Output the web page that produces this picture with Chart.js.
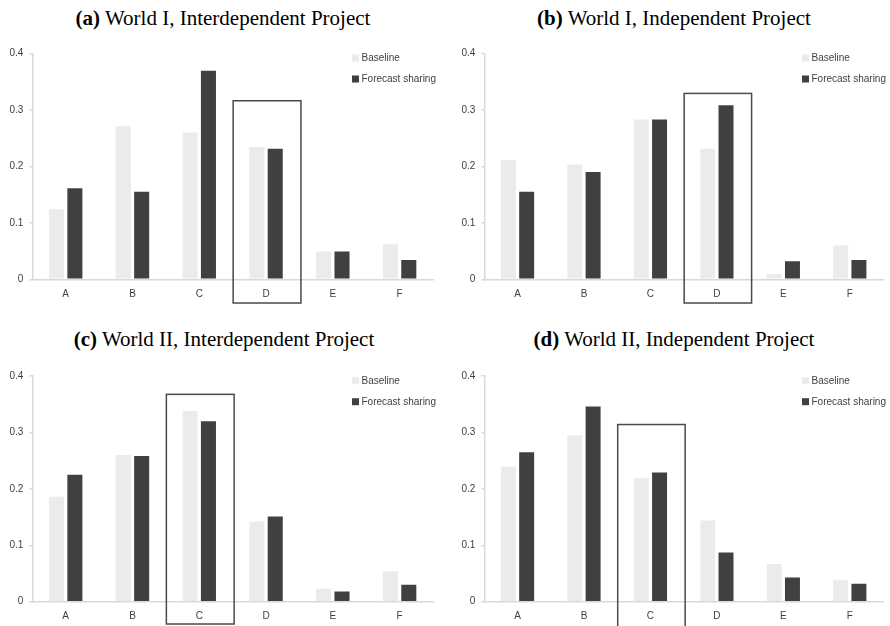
<!DOCTYPE html>
<html>
<head>
<meta charset="utf-8">
<script src="https://cdn.jsdelivr.net/npm/chart.js@4.4.1/dist/chart.umd.min.js"></script>
<style>
  html, body { margin: 0; padding: 0; background: #fff; }
  #wrap { position: relative; width: 890px; height: 626px; overflow: hidden; background: #fff; }
  canvas { position: absolute; }
  .title { position: absolute; width: 446px; text-align: center; font-family: "Liberation Serif", "Times New Roman", serif; font-size: 21px; line-height: 21px; color: #000; white-space: nowrap; }
  .title b { font-weight: bold; }
</style>
</head>
<body>
<div id="wrap">
  <div class="title" id="t0" style="left:0px; top:8px;"></div>
  <div class="title" id="t1" style="left:451px; top:8px;"></div>
  <div class="title" id="t2" style="left:1px; top:329px;"></div>
  <div class="title" id="t3" style="left:451px; top:329px;"></div>
  <canvas id="c0" width="445" height="313" style="left:0px; top:0px;"></canvas>
  <canvas id="c1" width="445" height="313" style="left:445px; top:0px;"></canvas>
  <canvas id="c2" width="445" height="313" style="left:0px; top:313px;"></canvas>
  <canvas id="c3" width="445" height="313" style="left:445px; top:313px;"></canvas>
</div>
<script>
// ---------------- data ----------------
const categories = ['A', 'B', 'C', 'D', 'E', 'F'];
const yTickValues = [0, 0.1, 0.2, 0.3, 0.4];
const seriesNames = ['Baseline', 'Forecast sharing'];
const panelLetters = ['(a)', '(b)', '(c)', '(d)'];
const panelTitles = ['World I, Interdependent Project', 'World I, Independent Project',
                     'World II, Interdependent Project', 'World II, Independent Project'];

const baselineW1Inter = [0.124, 0.271, 0.260, 0.234, 0.049, 0.062];
const forecastW1Inter = [0.161, 0.155, 0.369, 0.231, 0.049, 0.034];
const baselineW1Indep = [0.211, 0.203, 0.283, 0.231, 0.009, 0.060];
const forecastW1Indep = [0.155, 0.190, 0.283, 0.308, 0.032, 0.034];
const baselineW2Inter = [0.186, 0.260, 0.338, 0.142, 0.023, 0.054];
const forecastW2Inter = [0.225, 0.258, 0.320, 0.151, 0.018, 0.030];
const baselineW2Indep = [0.239, 0.295, 0.219, 0.144, 0.067, 0.038];
const forecastW2Indep = [0.265, 0.346, 0.229, 0.087, 0.043, 0.032];

const highlightCategory = ['D', 'D', 'C', 'C'];
const highlightTop = [0.316, 0.329, 0.3675, 0.314];

// ---------------- styling / layout ----------------
const baselineColor = '#ebebeb';
const forecastColor = '#404040';
const axisColor = '#d9d9d9';
const textColor = '#404040';

const panelBaseline = [baselineW1Inter, baselineW1Indep, baselineW2Inter, baselineW2Indep];
const panelForecast = [forecastW1Inter, forecastW1Indep, forecastW2Inter, forecastW2Indep];
const panelPadding = [
  { left: 2.3, top: 53.3, right: 12, bottom: 13.7 },
  { left: 9.3, top: 53.3, right: 7, bottom: 13.7 },
  { left: 2.3, top: 63, right: 12, bottom: 4.3 },
  { left: 9.3, top: 63, right: 7, bottom: 4.3 }
];
const boxBelowAxis = [23.7, 23.7, 22.3, 40];

const boxPlugin = {
  id: 'highlightBox',
  afterDraw(chart, args, opts) {
    const x = chart.scales.x, y = chart.scales.y;
    const idx = categories.indexOf(opts.category);
    const half = (x.right - x.left) / categories.length / 2;
    const cx = x.getPixelForValue(idx);
    const top = y.getPixelForValue(opts.top);
    const bottom = y.getPixelForValue(0) + opts.below;
    const ctx = chart.ctx;
    ctx.save();
    ctx.strokeStyle = '#4a4a4a';
    ctx.lineWidth = 1.5;
    ctx.strokeRect(cx - half + 0.5, top, half * 2 + 1, bottom - top);
    ctx.restore();
  }
};

const legendPlugin = {
  id: 'cornerLegend',
  afterDraw(chart) {
    const ctx = chart.ctx;
    const area = chart.chartArea;
    const x0 = area.right - 81;
    ctx.save();
    ctx.font = '10px "Liberation Sans", Arial, sans-serif';
    ctx.textBaseline = 'middle';
    ctx.textAlign = 'left';
    chart.data.datasets.forEach((ds, i) => {
      const cy = area.top + 4.7 + i * 21;
      ctx.fillStyle = ds.backgroundColor;
      ctx.fillRect(x0, cy - 3.5, 7, 7);
      ctx.fillStyle = textColor;
      ctx.fillText(ds.label, x0 + 9.5, cy + 0.5);
    });
    ctx.restore();
  }
};

for (let p = 0; p < 4; p++) {
  document.getElementById('t' + p).innerHTML = '<b>' + panelLetters[p] + '</b> ' + panelTitles[p];
  new Chart(document.getElementById('c' + p), {
    type: 'bar',
    data: {
      labels: categories,
      datasets: [
        { label: seriesNames[0], data: panelBaseline[p], backgroundColor: baselineColor,
          categoryPercentage: 0.55, barPercentage: 0.82 },
        { label: seriesNames[1], data: panelForecast[p], backgroundColor: forecastColor,
          categoryPercentage: 0.55, barPercentage: 0.82 }
      ]
    },
    options: {
      responsive: false,
      animation: false,
      devicePixelRatio: 1,
      layout: { padding: panelPadding[p] },
      plugins: {
        legend: { display: false },
        tooltip: { enabled: false },
        title: { display: false },
        highlightBox: { category: highlightCategory[p], top: highlightTop[p], below: boxBelowAxis[p] }
      },
      scales: {
        x: {
          grid: { display: false, drawTicks: false },
          border: { display: true, color: axisColor, width: 1.5 },
          ticks: { color: textColor, padding: 9, font: { family: '"Liberation Sans", Arial, sans-serif', size: 10 } },
          afterFit(scale) { scale.height = 20; }
        },
        y: {
          min: 0, max: 0.4,
          afterBuildTicks(scale) { scale.ticks = yTickValues.map(v => ({ value: v })); },
          grid: { display: true, drawOnChartArea: false, drawTicks: true, tickLength: 3, color: axisColor, lineWidth: 1.5 },
          border: { display: true, color: axisColor, width: 1.5 },
          ticks: { color: textColor, padding: 6, font: { family: '"Liberation Sans", Arial, sans-serif', size: 10 },
                   callback: (v) => String(v) },
          afterFit(scale) { scale.width = 30; }
        }
      }
    },
    plugins: [boxPlugin, legendPlugin]
  });
}
</script>
</body>
</html>
